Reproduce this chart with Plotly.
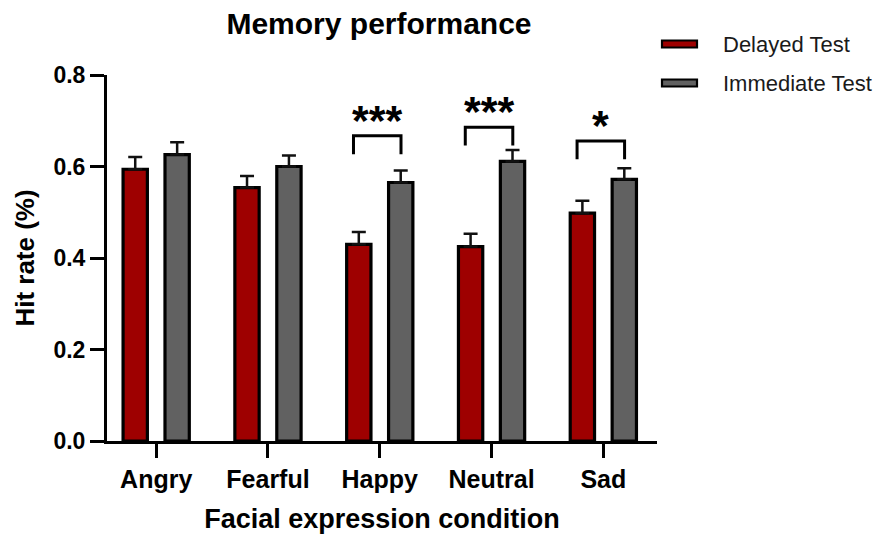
import plotly.graph_objects as go

categories = ["Angry", "Fearful", "Happy", "Neutral", "Sad"]
delayed = [0.594, 0.554, 0.430, 0.425, 0.498]
delayed_err = [0.027, 0.025, 0.027, 0.028, 0.027]
immediate = [0.626, 0.600, 0.565, 0.611, 0.572]
immediate_err = [0.027, 0.024, 0.026, 0.025, 0.024]
series_names = ["Delayed Test", "Immediate Test"]

# significance brackets (category index, label, bracket top height)
sig_cats = [2, 3, 4]
sig_labels = ["***", "***", "*"]
sig_tops = [0.667, 0.686, 0.656]

y_ticks = [0.0, 0.2, 0.4, 0.6, 0.8]
y_ticklabels = ["0.0", "0.2", "0.4", "0.6", "0.8"]

RED = "#9e0000"
GRAY = "#616161"
COLORS = [RED, GRAY]
FONT = "Liberation Sans, Arial, sans-serif"

# page body has an 8px margin; figure is sized to fill the rest
W, H = 875, 526
L, T = 99, 67
PW, PH = 550, 366

fig = go.Figure()
for name, vals, errs, col in zip(series_names, [delayed, immediate],
                                 [delayed_err, immediate_err], COLORS):
    fig.add_trace(go.Bar(
        x=list(range(len(categories))), y=vals, name=name, showlegend=False,
        marker=dict(color=col, line=dict(color="black", width=3.2)),
        error_y=dict(type="data", symmetric=False, array=errs,
                     arrayminus=[0] * len(vals), thickness=2.5, width=7, color="#111111"),
    ))

leg_left, leg_right, leg_len = -0.235, 0.19, 0.04
for c, lab, top in zip(sig_cats, sig_labels, sig_tops):
    x0 = c + leg_left
    x1 = c + leg_right
    fig.add_shape(type="path",
                  path=f"M {x0} {top - leg_len} L {x0} {top} L {x1} {top} L {x1} {top - leg_len}",
                  line=dict(color="black", width=3), xref="x", yref="y")
    fig.add_annotation(x=(x0 + x1) / 2, y=top, text=lab, showarrow=False,
                       xref="x", yref="y", yanchor="bottom", yshift=-10,
                       font=dict(family=FONT, size=43, color="black", weight="bold"))

# legend (wide bar swatches like the original)
leg_rows_px = [44, 83]
for name, col, ypx in zip(series_names, COLORS, leg_rows_px):
    yc = (441 - ypx) / PH
    fig.add_shape(type="rect", xref="paper", yref="paper",
                  x0=(662 - 107) / PW, x1=(697 - 107) / PW,
                  y0=yc - 3.5 / PH, y1=yc + 3.5 / PH,
                  fillcolor=col, line=dict(color="black", width=2.2))
    fig.add_annotation(x=(721 - 107) / PW, y=yc, xref="paper", yref="paper",
                       text=name, showarrow=False, xanchor="left", yanchor="middle",
                       font=dict(family=FONT, size=22, color="#1a1a1a"))

fig.update_layout(
    width=W, height=H,
    margin=dict(l=L, r=W - L - PW, t=T, b=H - T - PH, autoexpand=False),
    paper_bgcolor="white", plot_bgcolor="white",
    barmode="group", bargap=0.25, bargroupgap=0.42,
    showlegend=False,
    title=dict(text="<b>Memory performance</b>", x=371 / W, xanchor="center",
               y=1 - 15 / H, yanchor="middle",
               font=dict(family=FONT, size=30, color="black")),
    font=dict(family=FONT, color="black"),
)
fig.update_xaxes(
    range=[-0.44, 4.48], tickmode="array", tickvals=list(range(len(categories))),
    ticktext=[f"<b>{c}</b>" for c in categories], automargin=False,
    showline=True, linecolor="black", linewidth=3, ticks="outside", ticklen=14,
    tickwidth=3, tickcolor="black", showgrid=False, zeroline=False,
    tickfont=dict(family=FONT, size=25, color="black"),
    title=dict(text="<b>Facial expression condition</b>", standoff=18,
               font=dict(family=FONT, size=27, color="black")),
)
fig.update_yaxes(
    range=[0, 0.8], tickmode="array", tickvals=y_ticks,
    ticktext=[f"<b>{t}</b>" for t in y_ticklabels], automargin=False,
    showline=True, linecolor="black", linewidth=3, ticks="outside", ticklen=14,
    tickwidth=3, tickcolor="black", showgrid=False, zeroline=False,
    tickfont=dict(family=FONT, size=23, color="black"),
    title=dict(text="<b>Hit rate (%)</b>", standoff=12,
               font=dict(family=FONT, size=26, color="black")),
)

fig.write_html("out.html")
